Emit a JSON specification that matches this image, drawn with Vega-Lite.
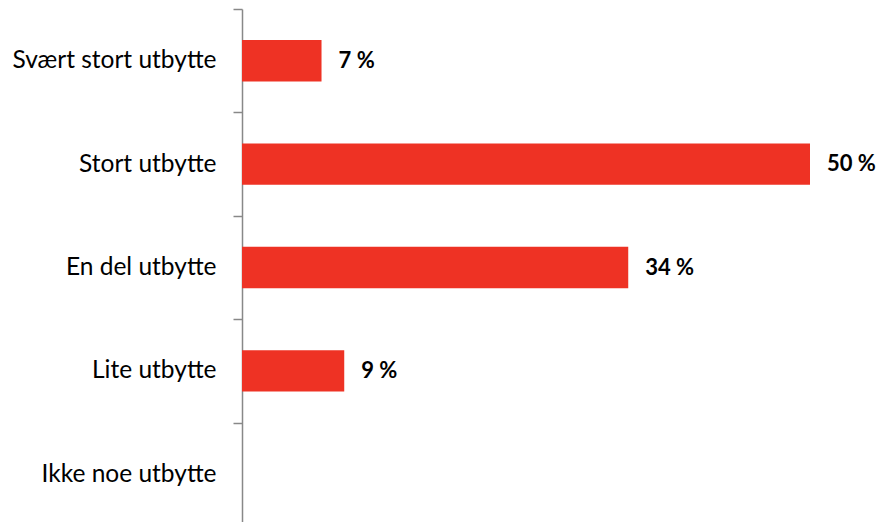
{
  "$schema": "https://vega.github.io/schema/vega-lite/v6.json",
  "autosize": "none",
  "width": 639,
  "height": 517,
  "padding": {"left": 242, "top": 9, "right": 0, "bottom": 0},
  "background": "white",
  "config": {"view": {"stroke": null}},
  "data": {"values": [
    {"kategori": "Svært stort utbytte", "andel": 7, "etikett": "7 %"},
    {"kategori": "Stort utbytte", "andel": 50, "etikett": "50 %"},
    {"kategori": "En del utbytte", "andel": 34, "etikett": "34 %"},
    {"kategori": "Lite utbytte\u00a0", "andel": 9, "etikett": "9 %"},
    {"kategori": "Ikke noe utbytte", "andel": 0, "etikett": ""}
  ]},
  "encoding": {
    "y": {
      "field": "kategori", "type": "nominal", "sort": null,
      "scale": {"paddingInner": 0.6, "paddingOuter": 0.3},
      "axis": {
        "title": null, "domainColor": "#888888", "domainWidth": 1.5,
        "tickColor": "#888888", "tickSize": 9, "tickWidth": 1.5,
        "tickOffset": -51.7, "labelOffset": 51.7,
        "labelFont": "Lato", "labelFontSize": 24.5, "labelColor": "#000000",
        "labelPadding": 17, "labelLimit": 300
      }
    },
    "x": {
      "field": "andel", "type": "quantitative",
      "scale": {"domain": [0, 56.25], "nice": false},
      "axis": null
    }
  },
  "layer": [
    {"mark": {"type": "bar", "color": "#EE3224"}},
    {"mark": {"type": "text", "align": "left", "dx": 17, "font": "Lato", "fontSize": 22, "fontWeight": "bold", "color": "#000000"},
     "encoding": {"text": {"field": "etikett", "type": "nominal"}}
    }
  ]
}
